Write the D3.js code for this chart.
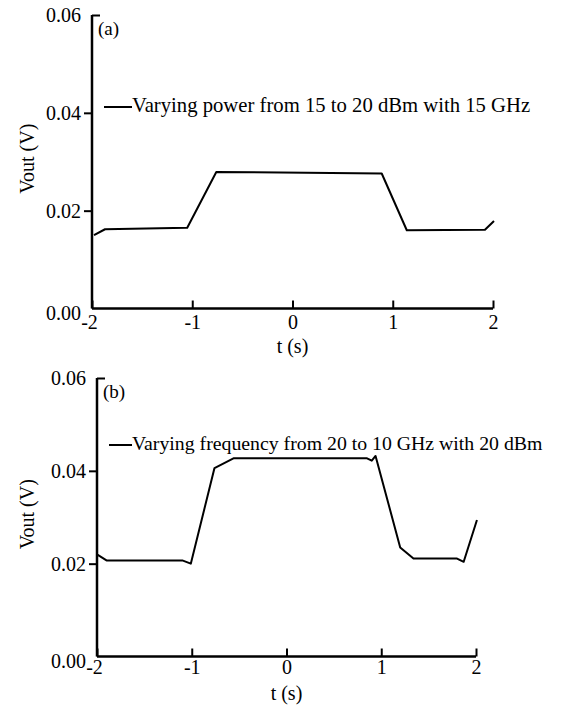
<!DOCTYPE html>
<html>
<head>
<meta charset="utf-8">
<script src="https://cdn.jsdelivr.net/npm/d3@7"></script>
<style>
  body { margin: 0; background: #fff; }
  svg, svg text { font-family: 'Liberation Serif', 'Times New Roman', serif; }
  svg { display: block; }
</style>
</head>
<body>
<svg id="chart" width="563" height="707"></svg>
<script>
// panel (a): varying power
var tA = [-1.98, -1.87, -1.05, -0.76, -0.12, 0.89, 1.14, 1.92, 2.01];
var vA = [0.0150, 0.0162, 0.0165, 0.0279, 0.0278, 0.0276, 0.0160, 0.0161, 0.0179];

// panel (b): varying frequency
var tB = [-2.00, -1.90, -1.10, -1.01, -0.76, -0.56, 0.85, 0.90, 0.94, 1.20, 1.34, 1.80, 1.87, 2.01];
var vB = [0.0220, 0.0207, 0.0207, 0.0200, 0.0406, 0.0427, 0.0427, 0.0422, 0.0432, 0.0235, 0.0211, 0.0211, 0.0204, 0.0294];

var xTicks = [-2, -1, 0, 1, 2];
var yTicks = [0, 0.02, 0.04, 0.06];
var labelA = "Varying power from 15 to 20 dBm with 15 GHz";
var labelB = "Varying frequency from 20 to 10 GHz with 20 dBm";

var svg = d3.select("#chart");

var drawPanel = function(opt){
  var x = d3.scaleLinear().domain([-2, 2]).range([opt.left, opt.right]);
  var y = d3.scaleLinear().domain([0, 0.06]).range([opt.bottom, opt.top]);
  var g = svg.append("g");

  // x axis, ticks pointing inward
  var xa = g.append("g")
    .attr("transform", "translate(0," + opt.bottom + ")")
    .call(d3.axisBottom(x).tickValues(xTicks).tickSize(-8).tickPadding(opt.xPad)
      .tickFormat(function(d){ return String(d); }));
  xa.attr("font-family", null);
  xa.select(".domain").attr("stroke-width", 2.5).attr("d", "M" + opt.left + ",0H" + opt.right);
  xa.selectAll(".tick line").attr("stroke-width", 2);
  xa.selectAll(".tick text").attr("font-size", 20).attr("fill", "#000")
    .attr("dx", function(d){ return d === -2 ? -3 : 0; });

  // y axis, ticks outward
  var ya = g.append("g")
    .attr("transform", "translate(" + opt.left + ",0)")
    .call(d3.axisLeft(y).tickValues(yTicks).tickSize(8).tickPadding(3)
      .tickFormat(d3.format(".2f")));
  ya.attr("font-family", null);
  ya.select(".domain").attr("stroke-width", 2.5).attr("d", "M0," + opt.bottom + "V" + opt.top);
  ya.selectAll(".tick line").attr("stroke-width", 2)
    .attr("x2", function(d){ return d === 0.06 ? 8 : (d === 0 ? 0 : -8); });
  ya.selectAll(".tick text").attr("font-size", 20).attr("fill", "#000")
    .attr("dy", function(d){ return d === 0 ? "0.55em" : "0.32em"; });

  // axis titles
  g.append("text")
    .attr("x", (opt.left + opt.right) / 2)
    .attr("y", opt.bottom + opt.titleGap)
    .attr("text-anchor", "middle").attr("font-size", 20)
    .text("t (s)");
  g.append("text")
    .attr("transform", "translate(27," + ((opt.top + opt.bottom) / 2 - 3) + ") rotate(-90)")
    .attr("text-anchor", "middle").attr("dy", "0.35em").attr("font-size", 20)
    .text("Vout (V)");

  // panel tag
  g.append("text").attr("x", opt.left + 6).attr("y", opt.top + 20)
    .attr("font-size", 19).text(opt.tag);

  // legend
  var ly = opt.legendY;
  g.append("line").attr("x1", opt.left + 12).attr("x2", 132)
    .attr("y1", ly).attr("y2", ly).attr("stroke", "#000").attr("stroke-width", 2);
  g.append("text").attr("x", 132).attr("y", ly + 5).attr("font-size", opt.legendSize)
    .text(opt.label);

  // series
  var pts = opt.t.map(function(t, i){ return [t, opt.v[i]]; });
  g.append("path").datum(pts)
    .attr("fill", "none").attr("stroke", "#000").attr("stroke-width", 2)
    .attr("stroke-linejoin", "round")
    .attr("d", d3.line().x(function(d){ return x(d[0]); }).y(function(d){ return y(d[1]); }));
};

drawPanel({ left: 92, right: 493, top: 15, bottom: 308.5, xPad: 6, titleGap: 44,
  legendY: 107, legendSize: 20.7, tag: "(a)", label: labelA, t: tA, v: vA });
drawPanel({ left: 97, right: 476, top: 378, bottom: 656.5, xPad: 3, titleGap: 43,
  legendY: 445, legendSize: 19.8, tag: "(b)", label: labelB, t: tB, v: vB });
</script>
</body>
</html>
